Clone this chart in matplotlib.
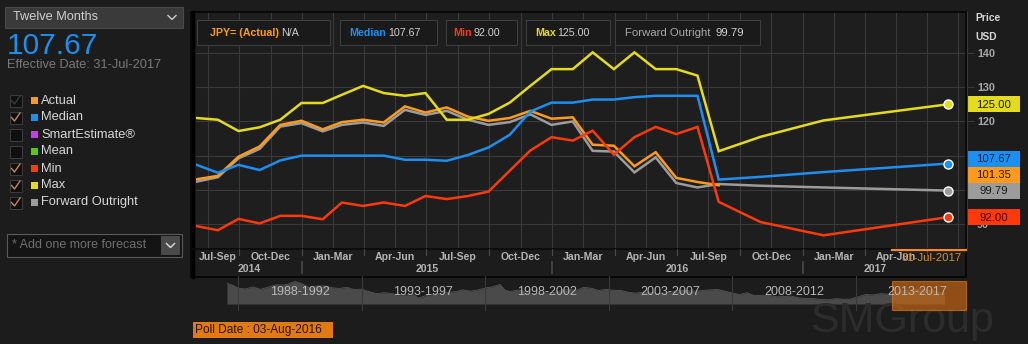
import matplotlib
matplotlib.use('Agg')
import matplotlib.pyplot as plt
import matplotlib.dates as mdates
from matplotlib.patches import Rectangle
import pandas as pd
import numpy as np

plt.rcParams['font.family'] = ['Liberation Sans', 'DejaVu Sans']

W, H = 1028, 344

# ---------------- data ----------------
hist_dates = ['2014-07-31', '2014-08-31', '2014-09-30', '2014-10-31', '2014-11-30', '2014-12-31',
              '2015-01-31', '2015-02-28', '2015-03-31', '2015-04-30', '2015-05-31', '2015-06-30',
              '2015-07-31', '2015-08-31', '2015-09-30', '2015-10-31', '2015-11-30', '2015-12-31',
              '2016-01-31', '2016-02-29', '2016-03-31', '2016-04-30', '2016-05-31', '2016-06-30',
              '2016-07-31']
fcst_dates = ['2016-08-31', '2016-10-31', '2017-01-31', '2017-07-31']

max_hist = [121.0, 120.5, 117.2, 118.3, 120.5, 125.4, 125.4, 127.8, 130.4, 128.3, 127.5, 128.3,
            120.5, 120.5, 122.2, 125.5, 130.4, 135.3, 135.3, 140.2, 135.3, 140.2, 135.3, 135.3,
            133.4]
max_fcst = [111.3, 115.5, 120.3, 125.00]

median_hist = [107.3, 105.0, 107.3, 105.8, 108.6, 110.0, 110.0, 110.0, 110.0, 110.0, 108.8, 108.8,
               108.5, 110.2, 112.4, 116.1, 122.9, 125.5, 125.5, 126.4, 126.4, 127.1, 127.5, 127.5,
               127.5]
median_fcst = [103.0, 103.8, 105.2, 107.67]

min_hist = [89.4, 88.2, 91.5, 90.2, 92.4, 92.4, 91.4, 96.3, 95.3, 96.3, 95.3, 98.2,
            97.3, 98.2, 99.5, 105.6, 111.5, 115.4, 114.4, 117.3, 110.3, 115.4, 118.4, 116.3,
            118.4]
min_fcst = [96.5, 90.6, 86.7, 92.00]

actual_vals = [103.1, 104.1, 109.7, 112.7, 119.0, 120.2, 117.7, 119.8, 120.5, 119.7, 124.4, 122.6,
               124.1, 121.4, 120.2, 121.0, 123.1, 120.8, 121.2, 113.2, 112.9, 106.9, 111.0, 103.5,
               102.3, 101.35]

fwd_hist = [102.4, 103.7, 109.2, 112.0, 118.5, 119.5, 117.1, 119.0, 119.7, 118.7, 123.4, 121.9,
            123.1, 120.5, 119.0, 119.8, 122.1, 119.0, 120.0, 111.4, 111.2, 105.1, 109.5, 102.0,
            100.7]
fwd_fcst = [101.7, 101.2, 100.7, 99.79]

quarter_names = ['Jan-Mar', 'Apr-Jun', 'Jul-Sep', 'Oct-Dec']
quarters = [(2014, 3), (2014, 4), (2015, 1), (2015, 2), (2015, 3), (2015, 4),
            (2016, 1), (2016, 2), (2016, 3), (2016, 4), (2017, 1), (2017, 2)]
years = [2014, 2015, 2016, 2017]
y_ticks = [90, 100, 110, 120, 130, 140]
y_tick_labels = ['90', '', '', '120', '130', '140']   # 100 and 110 sit under the value boxes

legend_items = ['Actual', 'Median', 'SmartEstimate\u00ae', 'Mean', 'Min', 'Max', 'Forward Outright']
legend_colors = ['#ff9a1c', '#1c8ff0', '#c040f0', '#5fc21f', '#ff3a0a', '#e3db1c', '#9c9c9c']
legend_checked = [None, True, False, False, True, True, True]

nav_points = [(1987.55, 150), (1987.8, 140), (1988.0, 128), (1988.3, 125), (1988.6, 134), (1988.9, 123),
              (1989.2, 132), (1989.5, 143), (1989.8, 142), (1990.0, 145), (1990.3, 158), (1990.6, 147),
              (1990.9, 130), (1991.2, 138), (1991.5, 138), (1991.8, 130), (1992.1, 127), (1992.4, 132),
              (1992.7, 122), (1993.0, 124), (1993.3, 113), (1993.6, 104), (1993.9, 108), (1994.2, 105),
              (1994.5, 99), (1994.8, 98), (1995.1, 99), (1995.3, 84), (1995.6, 95), (1995.9, 102),
              (1996.2, 106), (1996.5, 110), (1996.8, 113), (1997.1, 121), (1997.4, 115), (1997.7, 120),
              (1998.0, 129), (1998.3, 134), (1998.6, 145), (1998.8, 120), (1999.0, 113), (1999.3, 120),
              (1999.6, 114), (1999.9, 103), (2000.2, 106), (2000.5, 107), (2000.8, 109), (2001.1, 118),
              (2001.4, 123), (2001.7, 119), (2002.0, 132), (2002.3, 128), (2002.6, 118), (2002.9, 123),
              (2003.2, 119), (2003.5, 118), (2003.8, 110), (2004.1, 106), (2004.4, 111), (2004.7, 110),
              (2005.0, 104), (2005.3, 107), (2005.6, 112), (2005.9, 119), (2006.2, 117), (2006.5, 115),
              (2006.8, 118), (2007.1, 121), (2007.4, 123), (2007.7, 115), (2008.0, 107), (2008.3, 100),
              (2008.6, 108), (2008.9, 95), (2009.2, 97), (2009.5, 96), (2009.8, 90), (2010.1, 91),
              (2010.4, 93), (2010.7, 85), (2011.0, 82), (2011.3, 82), (2011.6, 78), (2011.9, 77),
              (2012.2, 82), (2012.5, 79), (2012.8, 80), (2013.1, 90), (2013.4, 100), (2013.7, 98),
              (2014.0, 104), (2014.3, 102), (2014.6, 102), (2014.9, 118), (2015.2, 120), (2015.5, 123),
              (2015.8, 120), (2016.1, 118), (2016.4, 108), (2016.6, 102)]
nav_years = [p[0] for p in nav_points]
nav_rates = [p[1] for p in nav_points]
nav_periods = ['1988-1992', '1993-1997', '1998-2002', '2003-2007', '2008-2012', '2013-2017']

# ---------------- helpers ----------------
def dn(s):
    return mdates.date2num(pd.Timestamp(s).to_pydatetime())

hist_x = [dn(d) for d in hist_dates]
fcst_x = [dn(d) for d in fcst_dates]

# ---------------- figure ----------------
BG = '#1c1c1c'
fig = plt.figure(figsize=(W / 100, H / 100), dpi=100, facecolor=BG)

ax = fig.add_axes([196 / W, 1 - 248 / H, (966 - 196) / W, (248 - 12) / H], facecolor='#1e1e1e')
ax.set_xlim(dn('2014-07-30'), dn('2017-08-27'))
ax.set_ylim(83, 152)
for s in ax.spines.values():
    s.set_visible(False)

# grid
qs = pd.date_range('2014-07-01', '2017-10-01', freq='QS')
grid_x = []
for a, b in zip(qs[:-1], qs[1:]):
    grid_x.append(mdates.date2num(a.to_pydatetime()))
    grid_x.append(mdates.date2num((a + (b - a) / 2).to_pydatetime()))
for gx in grid_x:
    if ax.get_xlim()[0] < gx < ax.get_xlim()[1]:
        ax.axvline(gx, color='#3a3a3a', lw=0.8, zorder=0)
ax.set_yticks(y_ticks, labels=y_tick_labels, fontweight='bold')
ax.grid(axis='y', color='#3a3a3a', lw=0.8, zorder=0)
ax.set_axisbelow(True)
ax.tick_params(axis='x', length=0, labelbottom=False)
ax.yaxis.tick_right()
ax.tick_params(axis='y', colors='#3a3a3a', labelcolor='#a8a8a8', labelsize=7.8,
               length=6, width=0.8, pad=2)

LW = 1.8
C_MAX, C_MED, C_MIN, C_ACT, C_FWD = '#e3db1c', '#1c8ff0', '#ff3a0a', '#ff9a1c', '#9c9c9c'
ax.plot(hist_x + fcst_x, fwd_hist + fwd_fcst, color=C_FWD, lw=LW, zorder=3, solid_joinstyle='miter')
ax.plot(hist_x + fcst_x[:1], actual_vals, color=C_ACT, lw=LW, zorder=4, solid_joinstyle='miter')
ax.plot(hist_x + fcst_x, median_hist + median_fcst, color=C_MED, lw=LW, zorder=5, solid_joinstyle='miter')
ax.plot(hist_x + fcst_x, max_hist + max_fcst, color=C_MAX, lw=LW, zorder=6, solid_joinstyle='miter')
ax.plot(hist_x + fcst_x, min_hist + min_fcst, color=C_MIN, lw=LW, zorder=7, solid_joinstyle='miter')
for vals, c in [(max_fcst, C_MAX), (median_fcst, C_MED), (fwd_fcst, C_FWD), (min_fcst, C_MIN)]:
    ax.plot(fcst_x[-1:], vals[-1:], 'o', color=c, ms=6.5, mec='white', mew=1.0, zorder=8)

# ---------------- navigator ----------------
nav = fig.add_axes([227 / W, 1 - 304 / H, (966 - 227) / W, 25 / H])
nav.set_xlim(1987.55, 1987.55 + 739 / 24.7)
nav.set_ylim(58, 169)
nav.axis('off')
nav.fill_between(nav_years, nav_rates, 58, color='#4a4a4a', lw=0)
nav.plot(nav_years, nav_rates, color='#555555', lw=0.6)

# ---------------- overlay (pixel coords) ----------------
ov = fig.add_axes([0, 0, 1, 1], zorder=10)
ov.set_xlim(0, W)
ov.set_ylim(H, 0)
ov.axis('off')

def px_x(xnum):
    return ax.transData.transform((xnum, 100))[0]

def px_y(v):
    return H - ax.transData.transform((hist_x[0], v))[1]

def nav_px(yr):
    return nav.transData.transform((yr, 100))[0]

# chart frame
ov.add_patch(Rectangle((191, 12), 775, 265, fill=False, ec='#050505', lw=1.2))
ov.plot([192.5, 192.5], [12, 277], color='#000000', lw=2.5)
ov.plot([191, 966], [248.5, 248.5], color='#0a0a0a', lw=1.2)
ov.plot([966.5, 966.5], [12, 248], color='#3a3a3a', lw=0.8)

# x-axis labels
data_start = dn(hist_dates[0])
data_end = dn(fcst_dates[-1])
for (yr, q) in quarters:
    a = dn(f'{yr}-{3 * q - 2:02d}-01')
    b = dn(f'{yr + 1}-01-01') if q == 4 else dn(f'{yr}-{3 * q + 1:02d}-01')
    a2, b2 = max(a, data_start), min(b, data_end)
    ov.text(px_x((a2 + b2) / 2), 257, quarter_names[q - 1], ha='center', va='center',
            color='#b4b4b4', fontsize=7.6, fontweight='bold')
    if ax.get_xlim()[0] < b < ax.get_xlim()[1]:
        ov.plot([px_x(b)] * 2, [249, 255], color='#4a4a4a', lw=0.8)
for yr in years:
    a = max(dn(f'{yr}-01-01'), data_start)
    b = min(dn(f'{yr + 1}-01-01'), data_end)
    ov.text(px_x((a + b) / 2), 269, str(yr), ha='center', va='center',
            color='#b4b4b4', fontsize=7.6, fontweight='bold')
    ys = dn(f'{yr}-01-01')
    if ax.get_xlim()[0] < ys < ax.get_xlim()[1]:
        ov.plot([px_x(ys)] * 2, [262, 273], color='#4a4a4a', lw=1.2)

# selected end date marker
ov.plot([892, 966], [250, 250], color='#ff8c1a', lw=1.6)
ov.text(902, 258, '31-Jul-2017', ha='left', va='center', color='#e08a30', fontsize=8.2)

# right axis header
ov.text(975, 18, 'Price', ha='left', va='center', color='#d8d8d8', fontsize=7.4, fontweight='bold')
ov.text(975, 37, 'USD', ha='left', va='center', color='#d8d8d8', fontsize=7.4, fontweight='bold')

# end value boxes (dodged)
end_labels = [(max_fcst[-1], C_MAX, '#1a1a1a'), (median_fcst[-1], C_MED, '#0a1f40'),
              (actual_vals[-1], C_ACT, '#2a1600'), (fwd_fcst[-1], C_FWD, '#1a1a1a'),
              (min_fcst[-1], C_MIN, '#4a0000')]
pos = sorted([(px_y(v), v, fc, tc) for v, fc, tc in end_labels], key=lambda t: -t[0])
prev = 1e9
for y, v, fc, tc in pos:
    y = min(y, prev - 16)
    prev = y
    ov.add_patch(Rectangle((967, y - 8), 53, 16, fc=fc, ec='none'))
    ov.text(993.5, y + 0.5, f'{v:.2f}', ha='center', va='center', color=tc, fontsize=8.2)

# top legend boxes
boxes = [(197, 330), (340, 437), (446, 517), (526, 610), (615, 760)]
for x0, x1 in boxes:
    ov.add_patch(Rectangle((x0, 20), x1 - x0, 25, fc='#1a1a1a', ec='#3e3e3e', lw=0.8))
ty = 33
ov.text(210, ty, 'JPY= (Actual)', color=C_ACT, fontsize=7.7, fontweight='bold', va='center')
ov.text(281, ty, 'N/A', color='#d0d0d0', fontsize=7.7, va='center')
ov.text(349, ty, 'Median', color=C_MED, fontsize=7.7, fontweight='bold', va='center')
ov.text(388, ty, f'{median_fcst[-1]:.2f}', color='#d0d0d0', fontsize=7.7, va='center')
ov.text(453, ty, 'Min', color=C_MIN, fontsize=7.7, fontweight='bold', va='center')
ov.text(473, ty, f'{min_fcst[-1]:.2f}', color='#d0d0d0', fontsize=7.7, va='center')
ov.text(535, ty, 'Max', color=C_MAX, fontsize=7.7, fontweight='bold', va='center')
ov.text(557, ty, f'{max_fcst[-1]:.2f}', color='#d0d0d0', fontsize=7.7, va='center')
ov.text(625, ty, 'Forward Outright', color='#a8a8a8', fontsize=8.2, va='center')
ov.text(716, ty, f'{fwd_fcst[-1]:.2f}', color='#d0d0d0', fontsize=8.2, va='center')

# left panel
ov.add_patch(Rectangle((5, 7), 178, 21, fc='#3a3a3a', ec='#4a4a4a', lw=0.8))
ov.text(13, 17.5, 'Twelve Months', color='#d0d0d0', fontsize=9.2, va='center')
ov.plot([168, 172, 176], [15.5, 19.5, 15.5], color='#cccccc', lw=1)
ov.text(7, 54.5, f'{median_fcst[-1]:.2f}', color='#1c8ff0', fontsize=21.5, va='baseline')
ov.text(7, 64.5, 'Effective Date: 31-Jul-2017', color='#7a7a7a', fontsize=9.2, va='center')

for i, (name, col, chk) in enumerate(zip(legend_items, legend_colors, legend_checked)):
    yc = 100.5 + i * 17
    ov.add_patch(Rectangle((9.5, yc - 6), 12, 12, fc='#0f0f0f', ec='#3a3a3a', lw=0.8))
    if chk is not False:
        ov.plot([11.5, 14.5, 20], [yc, yc + 3.5, yc - 4.5],
                color=('#c8845a' if chk else '#3a3a3a'), lw=1.0)
    ov.add_patch(Rectangle((31, yc - 3.5), 7, 7, fc=col, ec='none'))
    ov.text(41, yc, name, color='#d8d8d8', fontsize=9.3, va='center')

ov.add_patch(Rectangle((7, 234), 175, 23, fc='#141414', ec='#5a5a5a', lw=0.8))
ov.add_patch(Rectangle((161, 236), 19, 19, fc='#4a4a4a', ec='none'))
ov.plot([166.5, 170.5, 174.5], [243.5, 247.5, 243.5], color='#e0e0e0', lw=1)
ov.text(12, 245.5, '* Add one more forecast', color='#6f6f6f', fontsize=9, va='center')

# navigator decorations
for k in range(6):
    xd = nav_px(1988 + 5 * k)
    ov.plot([xd, xd], [276, 310], color='#3a3a3a', lw=0.8)
    ov.text(nav_px(1990.5 + 5 * k), 292, nav_periods[k], ha='center', va='center',
            color='#b8b8b8', fontsize=9)
ov.text(810, 321, 'SMGroup', ha='left', va='center', color='#2c2c2c', fontsize=31, zorder=1)
ov.add_patch(Rectangle((892, 281), 74, 29, fc='#d06a10', ec='#e07a20', lw=0.8, alpha=0.65))

# poll date
ov.add_patch(Rectangle((193, 322), 140, 16, fc='#e07b14', ec='none'))
ov.text(195, 330.5, 'Poll Date : 03-Aug-2016', color='#2a1200', fontsize=8.6, va='center')

fig.savefig('out.png', dpi=100, facecolor=BG)
